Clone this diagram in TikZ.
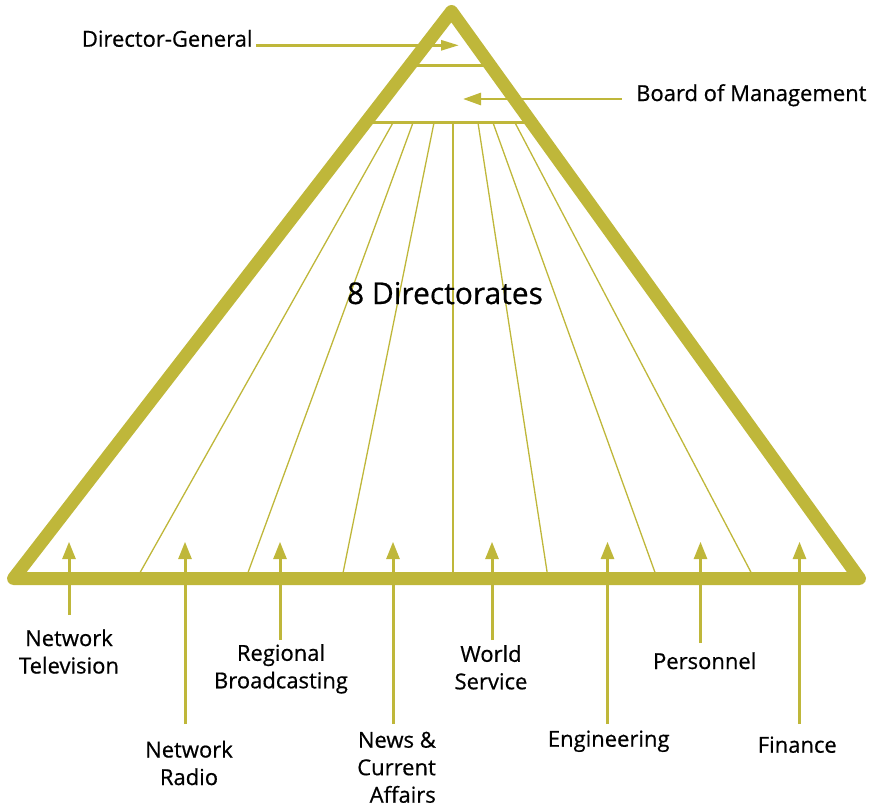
\documentclass[tikz,border=0pt]{standalone}
\usepackage{fontspec}
\setmainfont{Open Sans}[FakeBold=0.6]
\usetikzlibrary{arrows.meta,calc}
\definecolor{bbcolive}{RGB}{191,183,58}
\begin{document}
\begin{tikzpicture}[x=1pt,y=-1pt,
  frame/.style={draw=bbcolive, line width=13pt, line join=round},
  fan/.style={draw=bbcolive, line width=1.3pt},
  tier/.style={draw=bbcolive, line width=2.6pt},
  uparrow/.style={draw=bbcolive, line width=3pt, -{Triangle[length=17.5pt,width=13pt]}},
  sidearrow/.style={draw=bbcolive, line width=2.8pt, -{Triangle[length=18pt,width=#1]}},
  lbl/.style={font=\fontsize{22}{27.5}\selectfont, inner sep=0pt, align=center},
]
\useasboundingbox (0,0) rectangle (873,806);
% triangle corners
\coordinate (A) at (451.5,11.5);
\coordinate (L) at (13.5,578.5);
\coordinate (R) at (859.5,578.5);
% tiers
\coordinate (t1l) at ($(L)!0.9044!(A)$);
\coordinate (t1r) at ($(R)!0.9044!(A)$);
\coordinate (t2l) at ($(L)!0.8039!(A)$);
\coordinate (t2r) at ($(R)!0.8039!(A)$);
\draw[tier] (t1l) -- (t1r);
\draw[tier] (t2l) -- (t2r);
% fan lines
\foreach \n/\xt/\xb in {1/393/137, 2/413/246, 3/434/342, 4/453/453, 5/478/548, 6/493/657, 7/515/754} {
  \coordinate (f\n t) at (\xt,122.7);
  \coordinate (f\n b) at (\xb,578);
  \draw[fan] (f\n t) -- (f\n b);
}
% frame
\draw[frame] (A) -- (R) -- (L) -- cycle;
% top labels
\node[lbl, anchor=base west] (dg) at (81.7,46.7) {Director-General};
\coordinate (dgTip) at (459,45.3);
\coordinate (dgStart) at (256,45.3);
\draw[sidearrow=10pt] (dgStart) -- (dgTip);
\node[lbl, anchor=base west] (bm) at (636,101) {Board of Management};
\coordinate (bmTip) at (463,99);
\coordinate (bmStart) at (621.7,99);
\draw[sidearrow=12pt] (bmStart) -- (bmTip);
\node[font=\fontsize{30}{36}\selectfont, inner sep=0pt, anchor=base] (dir) at (445,304) {8 Directorates};
% bottom labels (base anchor = last line baseline)
\node[lbl, anchor=base] (nt) at (69,673.5) {Network\\Television};
\node[lbl, anchor=base] (nr) at (189,785) {Network\\Radio};
\node[lbl, anchor=base] (rb) at (281,688.3) {Regional\\Broadcasting};
\node[lbl, anchor=base east, align=right] (nc) at (436,802.7) {News \&\\Current\\Affairs};
\node[lbl, anchor=base] (ws) at (491,689.3) {World\\Service};
\node[lbl, anchor=base] (en) at (608.7,746.7) {Engineering};
\node[lbl, anchor=base] (pe) at (704.7,669) {Personnel};
\node[lbl, anchor=base] (fi) at (797.3,752.7) {Finance};
\foreach \name/\x/\yb in {nt/69/615, nr/185/724, rb/280/640, nc/393/724, ws/492/640, en/607.5/724, pe/700.5/643, fi/799.5/724} {
  \coordinate (\name Top) at (\x,541.7);
  \coordinate (\name Bot) at (\x,\yb);
  \draw[uparrow] (\name Bot) -- (\name Top);
}
\end{tikzpicture}
\end{document}
